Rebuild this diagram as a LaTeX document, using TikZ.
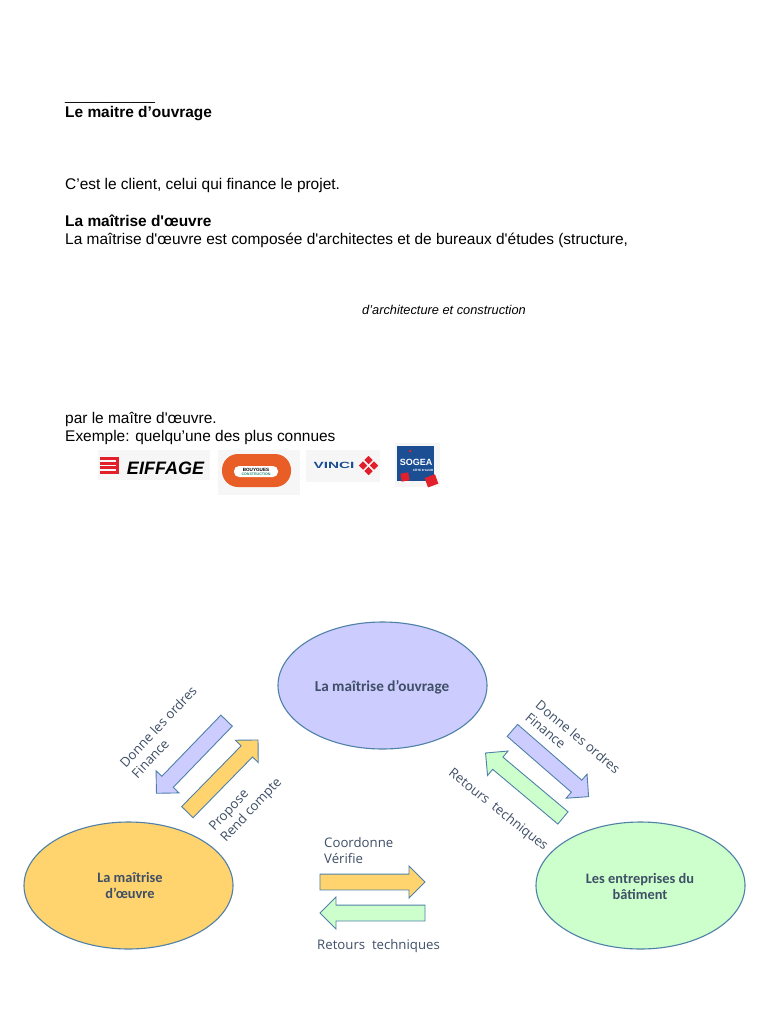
\documentclass[tikz,border=0pt]{standalone}
\usepackage{fontspec}
\setmainfont{Liberation Sans}[Ligatures=TeXOff]
\newfontfamily\labfont{Open Sans}
\newfontfamily\ovalfont{Carlito}
\usetikzlibrary{shapes.geometric,shapes.arrows}
\definecolor{purplefill}{HTML}{CCCCFF}
\definecolor{orangefill}{HTML}{FFD36E}
\definecolor{greenfill}{HTML}{CCFFCC}
\definecolor{linecol}{HTML}{4F81A8}
\definecolor{labcol}{HTML}{3F4F66}
\definecolor{logobg}{HTML}{F6F6F6}
\definecolor{logored}{HTML}{E2202C}
\definecolor{logoorange}{HTML}{E85E26}
\definecolor{logoblue}{HTML}{1C4E93}
\definecolor{logoteal}{HTML}{2A8C7C}
\begin{document}
\begin{tikzpicture}[x=1pt,y=-1pt,
  txt/.style={anchor=base west,inner sep=0pt,font=\fontsize{15.45}{18}\selectfont},
  boldtxt/.style={txt,font=\bfseries\fontsize{15.45}{18}\selectfont},
  oval/.style={draw=linecol,line width=1.1pt,ellipse,minimum width=209pt,minimum height=127pt,inner sep=0pt},
  ovallab/.style={font=\ovalfont\bfseries\fontsize{14.4}{16}\selectfont,text=labcol,align=center,inner sep=0pt},
  lab/.style={font=\labfont\fontsize{13.2}{16}\selectfont,text=labcol,align=left,inner sep=0pt},
  block/.style={draw=linecol,line width=0.9pt,single arrow,minimum height=101pt,minimum width=31pt,
    single arrow head extend=8pt,single arrow tip angle=90,inner xsep=0pt,inner ysep=7.5pt},
  logobox/.style={fill=logobg,draw=none}]
\useasboundingbox (0,0) rectangle (768,1024);
\fill[white] (0,0) rectangle (768,1024);
% text of the page
\node[txt,font=\fontsize{14.7}{18}\selectfont] (rule) at (65,101) {\_\_\_\_\_\_\_\_\_\_\_};
\node[boldtxt] (maitre) at (65,118) {Le maitre d’ouvrage};
\node[txt] (client) at (65,190) {C’est le client, celui qui finance le projet.};
\node[boldtxt] (oeuvre) at (65,226) {La maîtrise d'œuvre};
\node[txt] (compose) at (65,244) {La maîtrise d'œuvre est composée d'architectes et de bureaux d'études (structure,};
\node[txt,font=\itshape\fontsize{12.8}{15}\selectfont] (archi) at (362,314) {d’architecture et construction};
\node[txt] (parle) at (65,423) {par le maître d'œuvre.};
\node[txt] (exemple) at (65,441) {Exemple: quelqu’une des plus connues};
% logos
\fill[logobox] (98,450) rectangle (210,480);
\foreach \y in {457,461.5,466,470.5}
  \fill[logored] (100,\y) rectangle (116,\y+3);
\fill[logored] (116,457) rectangle (119,473.5);
\node[inner sep=0pt,font=\bfseries\itshape\fontsize{18}{18}\selectfont] (eiffage) at (165.5,468) {EIFFAGE};
\fill[logobox] (218,450) rectangle (300,495);
\fill[logoorange,rounded corners=16pt] (222,454) rectangle (291,487);
\fill[white,rounded corners=5pt] (234,466) rectangle (278,477);
\node[inner sep=0pt,font=\bfseries\fontsize{4.6}{4}\selectfont,align=center] (bouygues) at (256,469.5) {BOUYGUES};
\node[inner sep=0pt,text=logoteal,font=\bfseries\fontsize{3.6}{4}\selectfont] (construction) at (256,474) {CONSTRUCTION};
\fill[logobox] (306,450) rectangle (380,482);
\node[inner sep=0pt,text=logoblue,xscale=1.7,font=\bfseries\fontsize{9}{9}\selectfont] (vinci) at (334,465.5) {VINCI};
\foreach \cx/\cy in {368.5/460,363/465.5,374/465.5,368.5/471}
  \fill[logored,rotate around={45:(\cx,\cy)}] (\cx-3,\cy-3) rectangle (\cx+3,\cy+3);
\fill[logobox] (395,443) rectangle (440,487);
\fill[logoblue] (397,446) rectangle (434,481);
\fill[logored] (410,451) circle (1.5);
\node[inner sep=0pt,text=white,font=\bfseries\fontsize{9}{9}\selectfont] (sogea) at (416,462) {SOGEA};
\node[inner sep=0pt,text=white,font=\bfseries\fontsize{3}{3}\selectfont] (cote) at (423,470) {CÔTE D'AZUR};
\fill[logored,rotate around={10:(405,477)}] (401,473) rectangle (409,481);
\fill[logored,rotate around={20:(431,481)}] (426,476) rectangle (437,486);
% ovals
\node[oval,fill=purplefill] (ouvrage) at (382.5,685.5) {};
\node[oval,fill=orangefill] (moe) at (128.5,885.5) {};
\node[oval,fill=greenfill] (entreprises) at (640.5,885.5) {};
\node[ovallab,font=\ovalfont\bfseries\fontsize{15.2}{16}\selectfont] (ouvragelab) at (382,687) {La maîtrise d’ouvrage};
\node[ovallab] (moelab) at (130,885) {La maîtrise\\d’œuvre};
\node[ovallab] (entreprisesab) at (640,886) {Les entreprises du\\bâtiment};
% block arrows
\node[block,fill=purplefill,rotate=226] (ordresl) at (194.3,754.1) {};
\node[block,fill=orangefill,rotate=45.6] (proposel) at (219.9,778.9) {};
\node[block,fill=purplefill,rotate=-41] (ordresr) at (547.5,760.9) {};
\node[block,fill=greenfill,rotate=140] (retoursr) at (527.3,788) {};
\node[block,fill=orangefill,minimum height=105pt] (coordonne) at (368.5,882) {};
\node[block,fill=greenfill,minimum height=105pt,rotate=180] (retoursb) at (376.5,913) {};
% labels of the arrows
\node[lab,rotate=47] (ordresllab) at (164,732) {Donne les ordres\\Finance};
\node[lab,rotate=47] (proposellab) at (246,805) {Propose\\Rend compte};
\node[lab,rotate=-40] (ordresrlab) at (573,743) {Donne les ordres\\Finance};
\node[lab,rotate=-38.5] (retoursrlab) at (498,810) {Retours\ \ techniques};
\node[lab,anchor=north west] (coordonnelab) at (324,837) {Coordonne\\Vérifie};
\node[lab,anchor=west] (retoursblab) at (317,946) {Retours\ \ techniques};
\end{tikzpicture}
\end{document}
